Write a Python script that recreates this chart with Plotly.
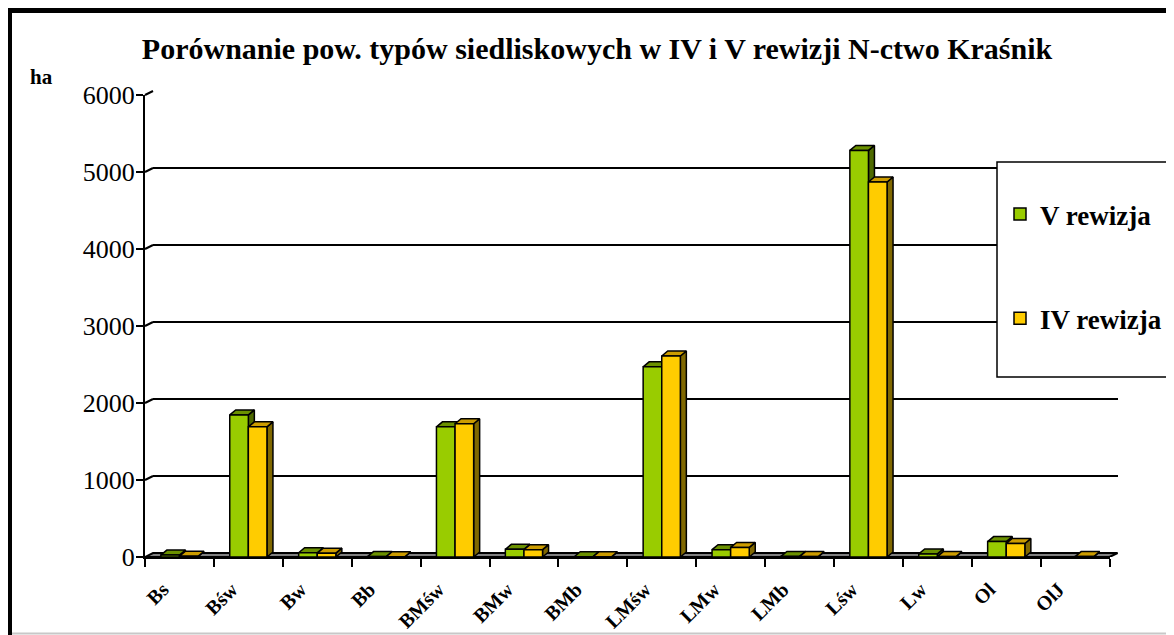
import plotly.graph_objects as go

# ---------------- data ----------------
categories = ['Bs', 'Bśw', 'Bw', 'Bb', 'BMśw', 'BMw', 'BMb', 'LMśw', 'LMw', 'LMb', 'Lśw', 'Lw', 'Ol', 'OlJ']
v_rewizja = [25, 1845, 55, 5, 1690, 100, 3, 2470, 95, 8, 5280, 40, 200, 0]
iv_rewizja = [10, 1690, 50, 3, 1730, 95, 2, 2610, 125, 5, 4870, 5, 175, 5]
y_ticks = [0, 1000, 2000, 3000, 4000, 5000, 6000]
series_names = ['V rewizja', 'IV rewizja']
title_text = 'Porównanie pow. typów siedliskowych w IV i V rewizji N-ctwo Kraśnik'
unit_text = 'ha'

# ---------------- geometry (page pixels) ----------------
OFF = 8                                   # page body margin
PAGE_W, PAGE_H = 1174, 635
W, H = PAGE_W - OFF, PAGE_H - OFF
L, R, T, B = 145, 1118, 91, 557           # plot area in page px
PW, PH = R - L, B - T
N = len(categories)
CAT = 68.9                                # px per category (front plane)
FRONT_W = N * CAT
YMAX = 6000
FRONT_H = 462
UPX = YMAX / FRONT_H                      # data units per px (y)
WALL_DX, WALL_DY = 8, 4                   # back wall offset
BAR_DX, BAR_DY = 6, 5                     # bar depth
BAR_W = 0.27
LABEL_SHIFT = 0.24                        # category labels sit a bit left of centre

def px2paper_x(px):
    return (px - L) / PW

def px2paper_y(py):
    return (B - py) / PH

def clamp(v):
    return max(0.0, min(1.0, v))

GREEN, GREEN_TOP, GREEN_SIDE = '#99CC00', '#6B9100', '#4E6A00'
YEL, YEL_TOP, YEL_SIDE = '#FFCC00', '#CC9C00', '#806800'
SERIF = 'Liberation Serif, Times New Roman, serif'

fig = go.Figure()

# dummy trace so the back-wall subplot is drawn first
fig.add_trace(go.Scatter(x=[None], y=[None], xaxis='x', yaxis='y', showlegend=False, hoverinfo='skip'))

# floor (faces subplot x2/y2 covers full plot area)
x2_max = -0.5 + PW / CAT
y2_max = PH * UPX
fdx, fdy = WALL_DX / CAT, WALL_DY * UPX
fig.add_trace(go.Scatter(
    x=[-0.5, N - 0.5, N - 0.5 + fdx, -0.5 + fdx, -0.5],
    y=[0, 0, fdy, fdy, 0],
    fill='toself', fillcolor='#808080', mode='lines',
    line=dict(color='black', width=2), xaxis='x2', yaxis='y2',
    showlegend=False, hoverinfo='skip'))

bdx, bdy = BAR_DX / CAT, BAR_DY * UPX

def faces(vals, x_off):
    tx, ty, sx, sy = [], [], [], []
    for i, v in enumerate(vals):
        if v <= 0:
            continue
        xl = i + x_off
        xr = xl + BAR_W
        tx += [xl, xl + bdx, xr + bdx, xr, xl, None]
        ty += [v, v + bdy, v + bdy, v, v, None]
        sx += [xr, xr + bdx, xr + bdx, xr, xr, None]
        sy += [0, bdy, v + bdy, v, 0, None]
    return tx, ty, sx, sy

for vals, off, ctop, cside in [(v_rewizja, -BAR_W, GREEN_TOP, GREEN_SIDE),
                               (iv_rewizja, 0.0, YEL_TOP, YEL_SIDE)]:
    tx, ty, sx, sy = faces(vals, off)
    fig.add_trace(go.Scatter(x=sx, y=sy, fill='toself', fillcolor=cside, mode='lines',
                             line=dict(color='black', width=1.5), xaxis='x2', yaxis='y2',
                             showlegend=False, hoverinfo='skip'))
    fig.add_trace(go.Scatter(x=tx, y=ty, fill='toself', fillcolor=ctop, mode='lines',
                             line=dict(color='black', width=1.5), xaxis='x2', yaxis='y2',
                             showlegend=False, hoverinfo='skip'))

# front faces as bars
idx = list(range(N))
fig.add_trace(go.Bar(x=idx, y=v_rewizja, width=BAR_W, offset=-BAR_W, name=series_names[0],
                     marker=dict(color=GREEN, line=dict(color='black', width=1.5)),
                     xaxis='x3', yaxis='y3', legendgroup='a'))
fig.add_trace(go.Bar(x=idx, y=iv_rewizja, width=BAR_W, offset=0, name=series_names[1],
                     marker=dict(color=YEL, line=dict(color='black', width=1.5)),
                     xaxis='x3', yaxis='y3', legendgroup='b'))

back_x_dom = [clamp(WALL_DX / PW), clamp((WALL_DX + FRONT_W) / PW)]
back_y_dom = [clamp(WALL_DY / PH), clamp((WALL_DY + FRONT_H) / PH)]
front_x_dom = [0, clamp(FRONT_W / PW)]
front_y_dom = [0, clamp(FRONT_H / PH)]

shapes = []
# little diagonals joining the front axis ticks to the back-wall gridlines
for v in y_ticks[1:]:
    py = B - v / UPX
    shapes.append(dict(type='line', xref='paper', yref='paper',
                       x0=px2paper_x(L), y0=px2paper_y(py),
                       x1=px2paper_x(L + WALL_DX), y1=px2paper_y(py - WALL_DY),
                       line=dict(color='black', width=2)))
# legend box
shapes.append(dict(type='rect', xref='paper', yref='paper',
                   x0=px2paper_x(997), x1=px2paper_x(1195),
                   y0=px2paper_y(162), y1=px2paper_y(377),
                   line=dict(color='black', width=1.5), fillcolor='white', layer='above'))
# outer frame
shapes.append(dict(type='rect', xref='paper', yref='paper',
                   x0=px2paper_x(9.5), x1=px2paper_x(1200),
                   y0=px2paper_y(10.5), y1=px2paper_y(660),
                   line=dict(color='black', width=5)))
shapes.append(dict(type='line', xref='paper', yref='paper',
                   x0=px2paper_x(12), x1=px2paper_x(1180),
                   y0=px2paper_y(633.5), y1=px2paper_y(633.5),
                   line=dict(color='#c8c8c8', width=2)))

fig.update_layout(
    width=W, height=H,
    margin=dict(l=L - OFF, r=PAGE_W - R, t=T - OFF, b=PAGE_H - B, autoexpand=False),
    paper_bgcolor='white', plot_bgcolor='rgba(0,0,0,0)',
    barmode='overlay', hovermode=False,
    font=dict(family=SERIF, color='black'),
    title=dict(text=title_text, x=(597 - OFF) / W, xref='container', xanchor='center',
               y=1 - (48 - OFF) / H, yref='container', yanchor='middle',
               font=dict(family=SERIF, size=30, weight='bold', color='black')),
    xaxis=dict(domain=back_x_dom, range=[-0.5, N - 0.5], visible=False, fixedrange=True),
    yaxis=dict(domain=back_y_dom, range=[0, YMAX], showgrid=True, gridcolor='black', gridwidth=2,
               dtick=1000, tick0=0, showticklabels=False, ticks='', zeroline=False, showline=False),
    xaxis2=dict(domain=[0, 1], range=[-0.5, x2_max], visible=False, anchor='y2'),
    yaxis2=dict(domain=[0, 1], range=[0, y2_max], visible=False, anchor='x2'),
    xaxis3=dict(domain=front_x_dom, range=[-0.5, N - 0.5], anchor='y3', automargin=False,
                tickmode='array', tickvals=[i - LABEL_SHIFT for i in idx], ticktext=categories, ticks='',
                tickangle=-45, ticklabelstandoff=11,
                tickfont=dict(family=SERIF, size=20, weight='bold', color='black'),
                showline=True, linecolor='black', linewidth=2, showgrid=False, zeroline=False,
                minor=dict(tickmode='array', tickvals=[i - 0.5 for i in range(N + 1)],
                           ticks='outside', ticklen=8, tickwidth=2, tickcolor='black', showgrid=False)),
    yaxis3=dict(domain=front_y_dom, range=[0, YMAX], anchor='x3', automargin=False,
                tickmode='array', tickvals=y_ticks, ticks='outside', ticklen=7, tickwidth=2,
                tickcolor='black', showline=True, linecolor='black', linewidth=2,
                showgrid=False, zeroline=False, ticklabelstandoff=-4,
                tickfont=dict(family=SERIF, size=26, color='black')),
    legend=dict(x=(1000 - OFF) / W, xref='container', xanchor='left',
                y=1 - (190 - OFF) / H, yref='container', yanchor='top',
                bgcolor='rgba(0,0,0,0)', borderwidth=0, traceorder='grouped',
                tracegroupgap=66,
                font=dict(family=SERIF, size=27, weight='bold', color='black')),
    shapes=shapes,
    annotations=[dict(text=unit_text, xref='paper', yref='paper',
                      x=px2paper_x(41), y=px2paper_y(77), xanchor='center', yanchor='middle',
                      showarrow=False, font=dict(family=SERIF, size=21, weight='bold', color='black'))],
)

fig.write_html('out.html')
